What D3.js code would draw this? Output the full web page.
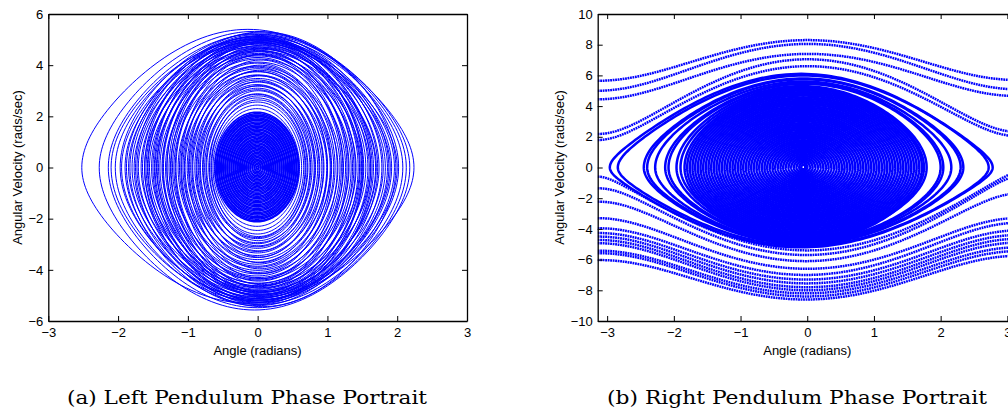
<!DOCTYPE html>
<html>
<head>
<meta charset="utf-8">
<script src="https://cdn.jsdelivr.net/npm/d3@7/dist/d3.min.js"></script>
<style>
  body { margin: 0; background: #fff; }
  .tick text { font-family: "Liberation Sans", Arial, sans-serif; font-size: 13px; fill: #000; }
  .tick line, .domain { stroke: #000; }
</style>
</head>
<body>
<div id="chart"></div>
<script>
// tick labels
const leftTicksX = [-3, -2, -1, 0, 1, 2, 3];
const leftTicksY = [-6, -4, -2, 0, 2, 4, 6];
const rightTicksX = [-3, -2, -1, 0, 1, 2, 3];
const rightTicksY = [-10, -8, -6, -4, -2, 0, 2, 4, 6, 8, 10];

// left pendulum: loops as [left turning angle, right turning angle, top velocity, bottom velocity]
const leftOuterLoops = [
  [-2.52, 2.24, 5.40, -5.30], [-2.27, 2.18, 5.32, -5.57], [-2.14, 2.13, 5.22, -5.48],
  [-2.04, 2.08, 5.12, -5.36], [-1.97, 2.02, 5.26, -5.18], [-1.90, 1.96, 5.04, -5.27],
  [-1.85, 1.92, 4.96, -5.08], [-1.80, 1.88, 5.16, -4.98], [-1.77, 1.83, 4.86, -5.18],
  [-1.73, 1.80, 5.02, -4.88], [-1.71, 1.70, 4.72, -5.05], [-1.67, 1.74, 4.92, -4.80],
  [-1.65, 1.66, 5.08, -5.22], [-1.62, 1.69, 4.62, -4.96], [-1.60, 1.62, 4.82, -4.70],
  [-1.57, 1.58, 4.98, -5.12], [-1.55, 1.60, 4.56, -4.86], [-1.52, 1.55, 4.76, -4.62],
  [-1.50, 1.52, 4.90, -5.00], [-1.47, 1.49, 4.46, -4.76], [-1.45, 1.46, 4.66, -4.52],
  [-1.42, 1.47, 4.84, -4.90], [-1.40, 1.41, 4.36, -4.66], [-1.37, 1.38, 4.52, -4.40],
  [-1.35, 1.40, 4.70, -4.82], [-1.32, 1.34, 4.24, -4.54], [-1.30, 1.31, 4.42, -4.30],
  [-1.27, 1.30, 4.58, -4.64], [-1.25, 1.26, 4.12, -4.36], [-1.22, 1.23, 4.30, -4.16],
  [-1.20, 1.18, 3.96, -4.24], [-1.17, 1.20, 4.40, -4.44], [-1.14, 1.15, 3.86, -4.02],
  [-1.12, 1.11, 4.08, -3.90], [-1.09, 1.09, 3.74, -4.10], [-1.07, 1.05, 3.92, -3.78],
  [-1.04, 1.04, 3.62, -3.86], [-1.01, 1.00, 3.76, -3.60], [-0.98, 0.99, 3.48, -3.70],
  [-0.96, 0.95, 3.60, -3.44], [-0.93, 0.92, 3.34, -3.52], [-0.90, 0.89, 3.42, -3.28],
  [-0.87, 0.86, 3.18, -3.34], [-0.85, 0.83, 3.24, -3.10], [-0.82, 0.81, 3.04, -3.16],
  [-0.79, 0.78, 3.10, -2.94], [-0.76, 0.75, 2.88, -2.98], [-0.73, 0.72, 2.86, -2.78],
  [-0.70, 0.69, 2.72, -2.74], [-0.67, 0.66, 2.56, -2.60], [-0.64, 0.63, 2.44, -2.46],
  [-0.62, 0.60, 2.30, -2.30],
  [-1.88, 1.86, 5.10, -5.40], [-1.75, 1.78, 5.20, -5.30], [-1.62, 1.64, 5.14, -5.34],
  [-1.48, 1.51, 5.06, -5.26], [-1.58, 1.72, 5.00, -5.15], [-1.44, 1.62, 4.94, -5.06],
  [-1.36, 1.50, 4.88, -5.02], [-1.30, 1.44, 4.78, -4.94], [-1.24, 1.36, 4.66, -4.86],
  [-1.18, 1.28, 4.54, -4.72], [-1.10, 1.22, 4.42, -4.58], [-1.05, 1.14, 4.20, -4.34],
  [-0.99, 1.06, 4.00, -4.14], [-0.94, 1.00, 3.80, -3.96], [-0.88, 0.94, 3.58, -3.72],
  [-0.83, 0.88, 3.36, -3.50], [-0.78, 0.82, 3.20, -3.26], [-0.74, 0.76, 3.00, -3.06],
  [-0.69, 0.71, 2.80, -2.86], [-0.66, 0.68, 2.64, -2.70], [-1.95, 1.90, 4.90, -5.12],
  [-2.10, 2.00, 5.00, -5.20], [-1.83, 1.98, 5.30, -5.44]
];
const leftCoreLoops = [
  [-0.61, 0.59, 2.16, -2.12], [-0.59, 0.58, 2.10, -2.08], [-0.58, 0.56, 2.05, -2.02],
  [-0.56, 0.55, 2.00, -1.97], [-0.55, 0.53, 1.94, -1.92], [-0.53, 0.52, 1.89, -1.86],
  [-0.52, 0.50, 1.84, -1.81], [-0.50, 0.49, 1.78, -1.76], [-0.49, 0.47, 1.73, -1.70],
  [-0.47, 0.46, 1.67, -1.65], [-0.46, 0.44, 1.62, -1.60], [-0.44, 0.43, 1.57, -1.54],
  [-0.43, 0.41, 1.51, -1.49], [-0.41, 0.40, 1.46, -1.44], [-0.40, 0.38, 1.40, -1.38],
  [-0.38, 0.37, 1.35, -1.33], [-0.37, 0.35, 1.30, -1.28], [-0.35, 0.34, 1.24, -1.22],
  [-0.34, 0.32, 1.19, -1.17], [-0.32, 0.31, 1.13, -1.12], [-0.31, 0.29, 1.08, -1.06],
  [-0.29, 0.28, 1.03, -1.01], [-0.28, 0.26, 0.97, -0.96], [-0.26, 0.25, 0.92, -0.90],
  [-0.25, 0.23, 0.86, -0.85], [-0.23, 0.22, 0.81, -0.80], [-0.22, 0.20, 0.76, -0.74],
  [-0.20, 0.19, 0.70, -0.69], [-0.19, 0.17, 0.65, -0.64], [-0.17, 0.16, 0.59, -0.58],
  [-0.16, 0.14, 0.54, -0.53], [-0.14, 0.13, 0.49, -0.48], [-0.13, 0.11, 0.43, -0.42],
  [-0.11, 0.10, 0.38, -0.37], [-0.10, 0.08, 0.32, -0.32], [-0.08, 0.07, 0.27, -0.26],
  [-0.07, 0.05, 0.22, -0.21], [-0.05, 0.04, 0.16, -0.16], [-0.04, 0.02, 0.11, -0.10],
  [-0.02, 0.01, 0.05, -0.05]
];

// right pendulum: libration loops, same layout as above
const rightLibrations = [
  [-2.96, 2.78, 6.10, -5.20], [-2.84, 2.72, 6.00, -5.10], [-2.45, 2.34, 5.80, -5.00],
  [-2.40, 2.30, 5.75, -4.95], [-2.28, 2.16, 5.60, -4.90], [-2.13, 2.04, 5.50, -4.85],
  [-2.08, 2.00, 5.45, -4.80], [-1.96, 1.79, 5.30, -4.70], [-1.90, 1.75, 5.20, -4.60],
  [-1.84, 1.72, 5.13, -4.86], [-1.80, 1.68, 5.02, -4.75], [-1.76, 1.64, 4.91, -4.64],
  [-1.72, 1.60, 4.80, -4.53], [-1.68, 1.56, 4.69, -4.42], [-1.64, 1.52, 4.57, -4.32],
  [-1.60, 1.48, 4.46, -4.21], [-1.56, 1.44, 4.35, -4.10], [-1.52, 1.40, 4.24, -3.99],
  [-1.48, 1.36, 4.13, -3.88], [-1.44, 1.32, 4.01, -3.78], [-1.40, 1.28, 3.90, -3.67],
  [-1.36, 1.24, 3.79, -3.56], [-1.32, 1.20, 3.68, -3.45], [-1.28, 1.16, 3.57, -3.34],
  [-1.24, 1.12, 3.45, -3.24], [-1.20, 1.08, 3.34, -3.13], [-1.16, 1.04, 3.23, -3.02],
  [-1.12, 1.00, 3.12, -2.91], [-1.08, 0.96, 3.01, -2.80], [-1.04, 0.92, 2.89, -2.70],
  [-1.00, 0.88, 2.78, -2.59], [-0.96, 0.84, 2.67, -2.48], [-0.92, 0.80, 2.56, -2.37],
  [-0.88, 0.76, 2.45, -2.26], [-0.84, 0.72, 2.33, -2.16], [-0.80, 0.68, 2.22, -2.05],
  [-0.76, 0.64, 2.11, -1.94], [-0.72, 0.60, 2.00, -1.83], [-0.68, 0.56, 1.89, -1.72],
  [-0.64, 0.52, 1.77, -1.62], [-0.60, 0.48, 1.66, -1.51], [-0.56, 0.44, 1.55, -1.40],
  [-0.52, 0.40, 1.44, -1.29], [-0.48, 0.36, 1.33, -1.18], [-0.44, 0.32, 1.21, -1.08],
  [-0.40, 0.28, 1.10, -0.97], [-0.36, 0.24, 0.99, -0.86], [-0.32, 0.20, 0.88, -0.75],
  [-0.28, 0.16, 0.77, -0.64], [-0.24, 0.12, 0.65, -0.54], [-0.20, 0.08, 0.54, -0.43],
  [-0.16, 0.04, 0.43, -0.32], [-0.12, 0.00, 0.32, -0.21], [-0.09, -0.03, 0.18, -0.12]
];
// right pendulum: over-the-top rotations as [velocity at -pi, velocity at 0, velocity at +pi]
const rightRotationsUpper = [
  [5.65, 8.30, 5.70], [5.00, 8.05, 5.10], [4.44, 7.40, 4.66],
  [2.18, 7.05, 2.33], [1.79, 6.60, 2.05]
];
const rightRotationsLower = [
  [-0.60, -5.40, -0.35], [-1.36, -5.70, -0.60], [-2.23, -6.10, -1.70],
  [-3.30, -6.60, -3.30], [-3.96, -7.00, -3.60], [-4.27, -7.30, -4.10],
  [-4.50, -7.55, -4.40], [-4.72, -7.80, -4.65], [-4.93, -8.00, -4.90],
  [-5.42, -8.20, -5.20], [-5.58, -8.40, -5.45], [-6.03, -8.60, -5.75]
];

const blue = "#0000ff";
const svg = d3.select("#chart").append("svg").attr("width", 1008).attr("height", 413);

function loopPoints(loop, n) {
  const [tL, tR, top, bot] = loop;
  const c = (tL + tR) / 2, a = (tR - tL) / 2, ca = Math.cos(a);
  const shape = th => Math.sqrt(Math.max(0, (Math.cos(th - c) - ca) / (1 - ca)));
  const pts = [];
  for (let i = 0; i <= n; i++) {
    const th = c - a * Math.cos(Math.PI * i / n);
    pts.push([th, top * shape(th)]);
  }
  for (let i = n; i >= 0; i--) {
    const th = c - a * Math.cos(Math.PI * i / n);
    pts.push([th, bot * shape(th)]);
  }
  return pts;
}

function rotationPoints(r, n) {
  const [wL, w0, wR] = r;
  const s = Math.sign(w0), mid = (wL + wR) / 2;
  const pts = [];
  for (let i = 0; i <= n; i++) {
    const t = i / n, th = -Math.PI + 2 * Math.PI * t;
    const wE = wL + (wR - wL) * t;
    pts.push([th, s * Math.sqrt(wE * wE + (w0 * w0 - mid * mid) * (1 + Math.cos(th)) / 2)]);
  }
  return pts;
}

function panel(opt) {
  const x = d3.scaleLinear().domain(opt.xDomain).range(opt.xRange);
  const y = d3.scaleLinear().domain(opt.yDomain).range([321, 14]);
  const g = svg.append("g");

  g.append("clipPath").attr("id", opt.id)
    .append("rect")
    .attr("x", opt.xRange[0]).attr("y", 14)
    .attr("width", opt.xRange[1] - opt.xRange[0]).attr("height", 307);

  const line = d3.line().x(d => x(d[0])).y(d => y(d[1]));
  const plot = g.append("g").attr("clip-path", `url(#${opt.id})`);
  opt.draw(plot, line);

  const fmt = d3.format("d");
  g.append("g").attr("transform", "translate(0,321)")
    .call(d3.axisBottom(x).tickValues(opt.ticksX).tickFormat(fmt).tickSizeInner(-5).tickSizeOuter(0).tickPadding(7));
  g.append("g").attr("transform", "translate(0,14)")
    .call(d3.axisTop(x).tickValues(opt.ticksX).tickFormat("").tickSizeInner(-5).tickSizeOuter(0));
  g.append("g").attr("transform", `translate(${opt.xRange[0]},0)`)
    .call(d3.axisLeft(y).tickValues(opt.ticksY).tickFormat(fmt).tickSizeInner(-5).tickSizeOuter(0).tickPadding(5));
  g.append("g").attr("transform", `translate(${opt.xRange[1]},0)`)
    .call(d3.axisRight(y).tickValues(opt.ticksY).tickFormat("").tickSizeInner(-5).tickSizeOuter(0));
  g.selectAll(".domain").attr("stroke-width", 1.3);

  const sans = "'Liberation Sans', Arial, sans-serif";
  g.append("text")
    .attr("x", opt.labelX).attr("y", 354.5)
    .attr("text-anchor", "middle")
    .attr("font-family", sans).attr("font-size", 13)
    .text("Angle (radians)");
  g.append("text")
    .attr("transform", `translate(${opt.ylabelX},167.5) rotate(-90)`)
    .attr("text-anchor", "middle").attr("dy", "0.35em")
    .attr("font-family", sans).attr("font-size", 13)
    .text("Angular Velocity (rads/sec)");
  g.append("text")
    .attr("x", opt.capX).attr("y", 404)
    .attr("font-family", "'DejaVu Serif', 'Liberation Serif', serif").attr("font-size", 19)
    .attr("textLength", opt.capW).attr("lengthAdjust", "spacingAndGlyphs")
    .text(opt.caption);
}

panel({
  id: "clipLeft",
  xDomain: [-3, 3], xRange: [48.3, 467], yDomain: [-6, 6],
  ticksX: leftTicksX, ticksY: leftTicksY,
  labelX: 257.5, ylabelX: 17.5,
  capX: 67, capW: 360,
  caption: "(a) Left Pendulum Phase Portrait",
  draw: (plot, line) => {
    plot.selectAll("path.loop")
      .data(leftOuterLoops)
      .enter().append("path")
      .attr("class", "loop")
      .attr("d", d => line(loopPoints(d, 90)))
      .attr("fill", "none").attr("stroke", blue).attr("stroke-width", 1);
    plot.selectAll("path.core")
      .data(leftCoreLoops)
      .enter().append("path")
      .attr("class", "core")
      .attr("d", d => line(loopPoints(d, 90)))
      .attr("fill", "none").attr("stroke", blue).attr("stroke-width", 1.6);
  }
});

panel({
  id: "clipRight",
  xDomain: [-Math.PI, Math.PI], xRange: [597.7, 597.7 + 2 * Math.PI * 66.7], yDomain: [-10, 10],
  ticksX: rightTicksX, ticksY: rightTicksY,
  labelX: 807.3, ylabelX: 559,
  capX: 607, capW: 380,
  caption: "(b) Right Pendulum Phase Portrait",
  draw: (plot, line) => {
    plot.selectAll("path.lib")
      .data(rightLibrations)
      .enter().append("path")
      .attr("class", "lib")
      .attr("d", d => line(loopPoints(d, 120)))
      .attr("fill", "none").attr("stroke", blue).attr("stroke-width", 2.5);
    plot.selectAll("path.rot")
      .data(rightRotationsUpper.concat(rightRotationsLower))
      .enter().append("path")
      .attr("class", "rot")
      .attr("d", d => line(rotationPoints(d, 160)))
      .attr("fill", "none").attr("stroke", blue).attr("stroke-width", 2.5)
      .attr("stroke-dasharray", "1.8,0.7");
  }
});
</script>
</body>
</html>
